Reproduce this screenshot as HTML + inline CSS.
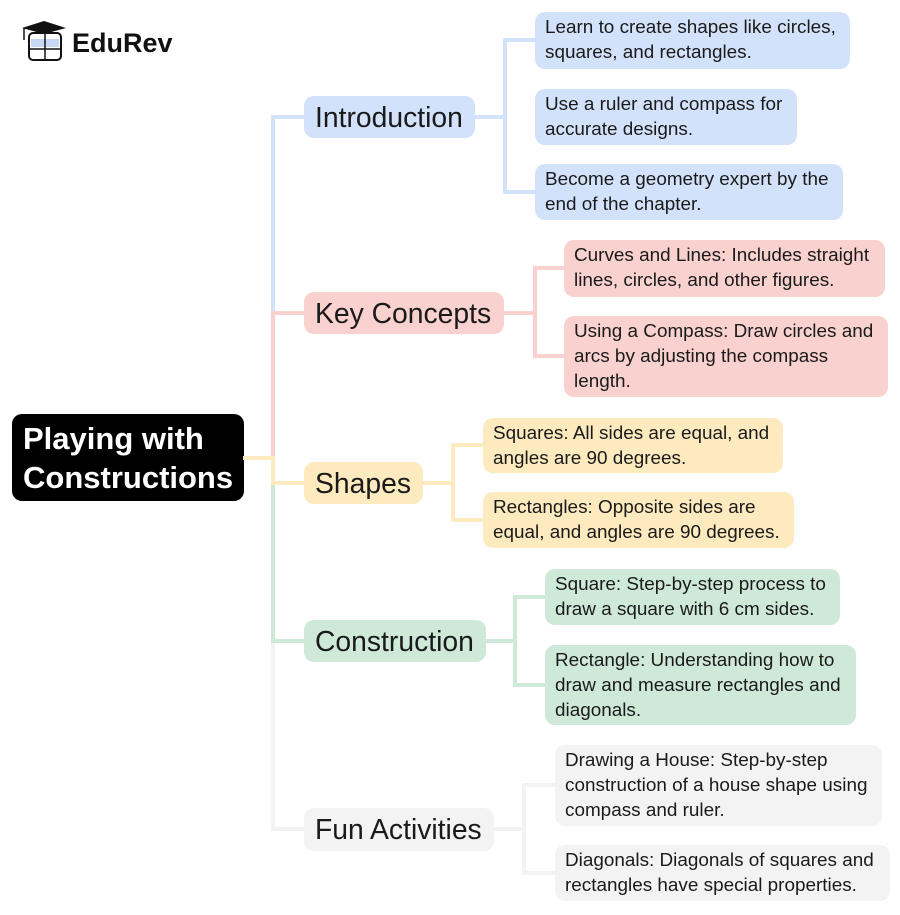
<!DOCTYPE html>
<html><head><meta charset="utf-8"><style>
body{margin:0;width:900px;height:915px;background:#fff;position:relative;overflow:hidden;font-family:"Liberation Sans",sans-serif;}
.b{position:absolute;box-sizing:border-box;border-radius:10px;color:#1a1a1a;white-space:nowrap;}
.br{font-size:28.3px;line-height:42px;padding-left:11px;}
.c{font-size:18.9px;line-height:25px;padding:3px 10px;}
.l{position:absolute;}
.blu{background:#d3e2fb}.pnk{background:#f9d1ce}.yel{background:#fdeabf}.grn{background:#cfe9d9}.gry{background:#f2f3f2}
</style></head><body>
<svg width="68" height="44" style="position:absolute;left:18px;top:20px" viewBox="0 0 68 44">
<polygon points="4,8 26,1 48,8 26,14" fill="#111"/>
<line x1="6" y1="8" x2="6" y2="20" stroke="#111" stroke-width="1.5"/>
<rect x="11" y="13" width="32" height="27" rx="4" fill="#fff" stroke="#111" stroke-width="2"/>
<rect x="13" y="19" width="28" height="8" fill="#c8d8f5"/>
<line x1="27" y1="13" x2="27" y2="40" stroke="#111" stroke-width="1.5"/>
<line x1="11" y1="29" x2="43" y2="29" stroke="#111" stroke-width="1.5"/>
</svg>
<div style="position:absolute;left:72px;top:28px;font-size:27px;font-weight:bold;color:#111;">EduRev</div>

<div class="b" style="left:12px;top:414px;width:232px;height:87px;background:#000;color:#fff;font-weight:bold;font-size:31px;line-height:39px;padding:5px 11px;">Playing with<br>Constructions</div>

<div class="l" style="left:243px;top:456px;width:32px;height:4px;background:#fdeabf"></div>
<div class="l blu" style="left:271px;top:115px;width:4px;height:198px"></div>
<div class="l pnk" style="left:271px;top:311px;width:4px;height:147px"></div>
<div class="l yel" style="left:271px;top:456px;width:4px;height:29px"></div>
<div class="l grn" style="left:271px;top:483px;width:4px;height:160px"></div>
<div class="l gry" style="left:271px;top:641px;width:4px;height:190px"></div>
<div class="l blu" style="left:271px;top:115px;width:34px;height:4px"></div>
<div class="l pnk" style="left:271px;top:311px;width:34px;height:4px"></div>
<div class="l yel" style="left:271px;top:481px;width:34px;height:4px"></div>
<div class="l grn" style="left:271px;top:639px;width:34px;height:4px"></div>
<div class="l gry" style="left:271px;top:827px;width:34px;height:4px"></div>

<div class="b br blu" style="left:304px;top:96px;width:171px;height:42px">Introduction</div>
<div class="l blu" style="left:475px;top:115px;width:32px;height:4px"></div>
<div class="l blu" style="left:503px;top:38px;width:4px;height:156px"></div>
<div class="l blu" style="left:503px;top:38px;width:33px;height:4px"></div>
<div class="l blu" style="left:503px;top:190px;width:33px;height:4px"></div>
<div class="b c blu" style="left:535px;top:12px;width:315px;height:57px">Learn to create shapes like circles,<br>squares, and rectangles.</div>
<div class="b c blu" style="left:535px;top:89px;width:262px;height:56px">Use a ruler and compass for<br>accurate designs.</div>
<div class="b c blu" style="left:535px;top:164px;width:308px;height:56px">Become a geometry expert by the<br>end of the chapter.</div>

<div class="b br pnk" style="left:304px;top:292px;width:200px;height:42px">Key Concepts</div>
<div class="l pnk" style="left:504px;top:311px;width:33px;height:4px"></div>
<div class="l pnk" style="left:533px;top:266px;width:4px;height:92px"></div>
<div class="l pnk" style="left:533px;top:266px;width:32px;height:4px"></div>
<div class="l pnk" style="left:533px;top:354px;width:32px;height:4px"></div>
<div class="b c pnk" style="left:564px;top:240px;width:321px;height:57px">Curves and Lines: Includes straight<br>lines, circles, and other figures.</div>
<div class="b c pnk" style="left:564px;top:316px;width:324px;height:81px">Using a Compass: Draw circles and<br>arcs by adjusting the compass<br>length.</div>

<div class="b br yel" style="left:304px;top:462px;width:119px;height:42px">Shapes</div>
<div class="l yel" style="left:423px;top:481px;width:32px;height:4px"></div>
<div class="l yel" style="left:451px;top:443px;width:4px;height:79px"></div>
<div class="l yel" style="left:451px;top:443px;width:33px;height:4px"></div>
<div class="l yel" style="left:451px;top:518px;width:33px;height:4px"></div>
<div class="b c yel" style="left:483px;top:418px;width:300px;height:55px">Squares: All sides are equal, and<br>angles are 90 degrees.</div>
<div class="b c yel" style="left:483px;top:492px;width:311px;height:56px">Rectangles: Opposite sides are<br>equal, and angles are 90 degrees.</div>

<div class="b br grn" style="left:304px;top:620px;width:182px;height:42px">Construction</div>
<div class="l grn" style="left:486px;top:639px;width:31px;height:4px"></div>
<div class="l grn" style="left:513px;top:595px;width:4px;height:92px"></div>
<div class="l grn" style="left:513px;top:595px;width:33px;height:4px"></div>
<div class="l grn" style="left:513px;top:683px;width:33px;height:4px"></div>
<div class="b c grn" style="left:545px;top:569px;width:295px;height:56px">Square: Step-by-step process to<br>draw a square with 6 cm sides.</div>
<div class="b c grn" style="left:545px;top:645px;width:311px;height:80px">Rectangle: Understanding how to<br>draw and measure rectangles and<br>diagonals.</div>

<div class="b br gry" style="left:304px;top:808px;width:190px;height:43px">Fun Activities</div>
<div class="l gry" style="left:494px;top:827px;width:32px;height:4px"></div>
<div class="l gry" style="left:522px;top:783px;width:4px;height:92px"></div>
<div class="l gry" style="left:522px;top:783px;width:34px;height:4px"></div>
<div class="l gry" style="left:522px;top:871px;width:34px;height:4px"></div>
<div class="b c gry" style="left:555px;top:745px;width:327px;height:81px">Drawing a House: Step-by-step<br>construction of a house shape using<br>compass and ruler.</div>
<div class="b c gry" style="left:555px;top:845px;width:335px;height:56px">Diagonals: Diagonals of squares and<br>rectangles have special properties.</div>
</body></html>
